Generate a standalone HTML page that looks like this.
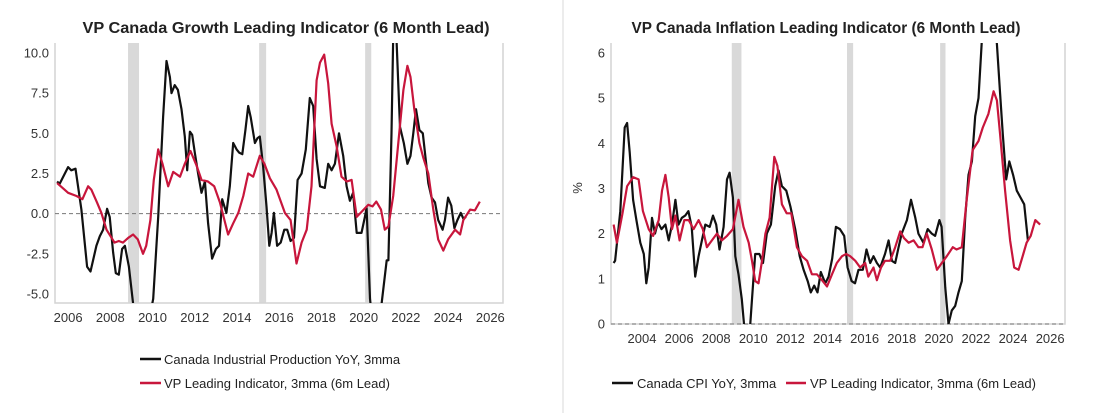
<!DOCTYPE html>
<html><head><meta charset="utf-8"><style>
body{margin:0;background:#fff;width:1106px;height:413px;overflow:hidden;font-family:"Liberation Sans",sans-serif}
svg{display:block}
</style></head><body>
<svg id="svg" width="1106" height="413">
<rect x="0" y="0" width="1106" height="413" fill="#fff"/>
<line x1="563" y1="0" x2="563" y2="413" stroke="#d8d8d8"/>
<text x="286" y="33" text-anchor="middle" font-size="16" font-weight="bold" fill="#222" textLength="407" lengthAdjust="spacingAndGlyphs">VP Canada Growth Leading Indicator (6 Month Lead)</text>
<text x="826" y="33" text-anchor="middle" font-size="16" font-weight="bold" fill="#222" textLength="389" lengthAdjust="spacingAndGlyphs">VP Canada Inflation Leading Indicator (6 Month Lead)</text>
<text transform="translate(582,188) rotate(-90)" text-anchor="middle" font-size="13" fill="#333">%</text>
<g>
<line x1="140" y1="359" x2="161" y2="359" stroke="#111" stroke-width="2.5"/>
<text x="164" y="364" font-size="13" fill="#222">Canada Industrial Production YoY, 3mma</text>
<line x1="140" y1="383" x2="161" y2="383" stroke="#c8163c" stroke-width="2.5"/>
<text x="164" y="388" font-size="13" fill="#222">VP Leading Indicator, 3mma (6m Lead)</text>
</g>
<g>
<line x1="612" y1="383" x2="633" y2="383" stroke="#111" stroke-width="2.5"/>
<text x="637" y="388" font-size="13" fill="#222">Canada CPI YoY, 3mma</text>
<line x1="786" y1="383" x2="806" y2="383" stroke="#c8163c" stroke-width="2.5"/>
<text x="810" y="388" font-size="13" fill="#222">VP Leading Indicator, 3mma (6m Lead)</text>
</g>
</svg>
<script>
const recessions=[[2008.84,2009.36],[2015.05,2015.38],[2020.07,2020.36]];
const gTicksX=[2006,2008,2010,2012,2014,2016,2018,2020,2022,2024,2026];
const gTicksY=[10,7.5,5,2.5,0,-2.5,-5];
const ipYears=[2005.48,2005.6,2006.0,2006.15,2006.35,2006.63,2006.9,2007.06,2007.34,2007.5,2007.66,2007.85,2007.97,2008.13,2008.26,2008.4,2008.56,2008.69,2008.88,2009.08,2009.5,2010.03,2010.27,2010.5,2010.66,2010.82,2010.9,2011.05,2011.2,2011.37,2011.53,2011.64,2011.77,2011.88,2012.0,2012.16,2012.32,2012.48,2012.63,2012.82,2013.0,2013.15,2013.3,2013.5,2013.66,2013.82,2013.98,2014.1,2014.25,2014.4,2014.53,2014.65,2014.85,2014.97,2015.08,2015.24,2015.4,2015.53,2015.64,2015.75,2015.9,2016.07,2016.24,2016.38,2016.54,2016.7,2016.87,2017.06,2017.26,2017.45,2017.61,2017.77,2017.93,2018.16,2018.32,2018.48,2018.64,2018.83,2019.03,2019.19,2019.35,2019.5,2019.67,2019.9,2020.06,2020.14,2020.3,2020.6,2020.85,2021.09,2021.17,2021.32,2021.4,2021.5,2021.55,2021.72,2021.9,2022.07,2022.22,2022.35,2022.48,2022.64,2022.8,2022.92,2023.06,2023.22,2023.38,2023.53,2023.74,2023.85,2024.0,2024.15,2024.3,2024.44,2024.6,2024.72,2024.85];
const ipValues=[2.0,1.85,2.9,2.7,2.8,0.25,-3.3,-3.6,-2.0,-1.4,-1.0,0.3,-0.2,-2.4,-3.7,-3.8,-2.2,-2.0,-3.3,-5.6,-9,-5.3,-0.2,6.0,9.5,8.5,7.5,8.0,7.7,6.5,4.8,2.7,5.1,4.9,3.8,2.5,1.3,2.0,-0.6,-2.8,-2.2,-2.0,0.9,0.05,1.7,4.4,4.0,3.8,3.7,5.2,6.7,6.0,4.4,4.7,4.8,2.9,0.45,-2.0,-1.2,0.05,-2.0,-1.8,-1.0,-1.0,-1.7,-1.5,2.1,2.5,4.0,7.2,6.7,3.4,1.7,1.6,3.1,2.7,3.1,5.0,3.6,1.7,0.8,1.3,-1.2,-1.2,-0.2,0.35,-5.3,-9,-5.6,-2.9,-2.9,5.0,11,13,11,5.4,4.4,3.1,3.6,5.0,6.5,5.2,5.0,3.6,1.9,1.0,0.7,-0.4,-1.0,-0.4,1.0,0.5,-0.9,-0.4,0.05,-0.3,-0.2];
const gliYears=[2005.48,2006.0,2006.4,2006.68,2006.95,2007.1,2007.37,2007.58,2007.82,2008.2,2008.4,2008.6,2008.85,2009.08,2009.3,2009.55,2009.7,2009.9,2010.06,2010.27,2010.47,2010.74,2010.98,2011.3,2011.53,2011.8,2012.08,2012.32,2012.62,2012.92,2013.19,2013.58,2013.82,2014.06,2014.3,2014.53,2014.77,2015.08,2015.3,2015.56,2015.87,2016.27,2016.54,2016.82,2017.06,2017.3,2017.53,2017.77,2017.93,2018.13,2018.32,2018.48,2018.72,2018.95,2019.2,2019.43,2019.67,2020.0,2020.22,2020.42,2020.6,2020.82,2021.0,2021.17,2021.4,2021.64,2021.88,2022.07,2022.22,2022.4,2022.64,2022.82,2023.06,2023.3,2023.53,2023.77,2024.0,2024.33,2024.57,2024.72,2025.04,2025.27,2025.5];
const gliValues=[1.9,1.3,1.1,0.9,1.7,1.5,0.7,0.05,-1.0,-1.8,-1.7,-1.8,-1.5,-1.3,-1.6,-2.5,-2.0,-0.4,2.1,4.0,3.1,1.7,2.6,2.3,3.1,3.9,3.0,2.1,2.0,1.7,0.7,-1.3,-0.6,0.05,1.1,2.5,2.3,3.6,3.1,2.2,1.5,0.05,-0.4,-3.1,-1.8,-1.0,1.7,8.3,9.4,9.9,8.1,5.6,4.2,2.3,2.0,2.1,-0.2,0.25,0.55,0.45,0.75,0.25,-1.0,-0.8,1.1,4.4,7.7,9.2,8.5,6.5,4.4,3.5,2.5,0.25,-1.6,-2.3,-1.6,-1.0,-1.3,-0.4,0.25,0.2,0.75];
const iTicksX=[2004,2006,2008,2010,2012,2014,2016,2018,2020,2022,2024,2026];
const iTicksY=[0,1,2,3,4,5,6];
const cpiYears=[2002.47,2002.55,2002.83,2003.07,2003.2,2003.34,2003.52,2003.7,2003.91,2004.1,2004.23,2004.36,2004.54,2004.7,2004.86,2005.05,2005.26,2005.44,2005.62,2005.8,2005.97,2006.15,2006.33,2006.5,2006.68,2006.87,2007.05,2007.23,2007.41,2007.65,2007.83,2008.0,2008.18,2008.4,2008.58,2008.72,2008.9,2009.03,2009.2,2009.38,2009.5,2009.75,2009.93,2010.1,2010.33,2010.52,2010.73,2010.95,2011.18,2011.36,2011.54,2011.78,2012.0,2012.26,2012.5,2012.71,2012.93,2013.1,2013.28,2013.46,2013.64,2013.88,2014.06,2014.25,2014.45,2014.67,2014.9,2015.08,2015.3,2015.48,2015.67,2015.9,2016.1,2016.3,2016.48,2016.66,2016.84,2017.1,2017.29,2017.47,2017.65,2017.83,2018.0,2018.28,2018.5,2018.73,2018.9,2019.17,2019.4,2019.62,2019.8,2020.03,2020.15,2020.35,2020.52,2020.7,2020.88,2021.06,2021.24,2021.42,2021.6,2021.78,2021.96,2022.14,2022.32,2022.6,2022.9,2023.13,2023.3,2023.45,2023.63,2023.8,2024.0,2024.2,2024.4,2024.6,2024.8];
const cpiValues=[1.35,1.4,2.5,4.35,4.45,3.8,2.75,2.3,1.8,1.55,0.9,1.25,2.35,2.0,2.25,2.1,2.2,1.85,2.2,2.75,2.2,2.35,2.4,2.5,2.15,1.05,1.5,1.85,2.2,2.15,2.4,2.2,1.65,2.15,3.2,3.35,2.8,1.5,1.1,0.55,0,-0.5,0.55,1.55,1.55,1.35,2.0,2.2,3.05,3.4,3.05,2.95,2.6,2.1,1.5,1.2,0.95,0.7,0.85,0.7,1.15,0.9,1.05,1.45,2.15,2.1,1.95,1.25,0.95,0.9,1.2,1.2,1.65,1.35,1.5,1.35,1.25,1.55,1.85,1.4,1.35,1.7,2.0,2.3,2.75,2.35,2.0,1.8,2.1,2.0,1.95,2.3,2.15,0.8,0,0.3,0.4,0.7,0.95,2.35,3.3,3.6,4.6,5.0,6.3,7.2,7.0,6.2,5.1,4.2,3.2,3.6,3.3,2.95,2.8,2.65,1.85];
const iliYears=[2002.47,2002.65,2002.95,2003.2,2003.52,2003.82,2004.05,2004.36,2004.6,2004.9,2005.08,2005.26,2005.44,2005.62,2005.8,2006.03,2006.28,2006.52,2006.78,2007.05,2007.28,2007.5,2007.77,2008.04,2008.3,2008.58,2008.9,2009.2,2009.47,2009.75,2009.93,2010.1,2010.28,2010.47,2010.65,2010.88,2011.13,2011.3,2011.54,2011.8,2012.05,2012.35,2012.62,2012.9,2013.16,2013.43,2013.7,2013.97,2014.24,2014.5,2014.78,2015.0,2015.22,2015.5,2015.76,2016.03,2016.2,2016.48,2016.66,2016.88,2017.1,2017.38,2017.65,2017.92,2018.13,2018.37,2018.64,2018.9,2019.12,2019.35,2019.62,2019.9,2020.16,2020.43,2020.75,2020.95,2021.24,2021.5,2021.82,2022.14,2022.37,2022.67,2022.95,2023.13,2023.3,2023.57,2023.84,2024.06,2024.3,2024.55,2024.73,2024.95,2025.2,2025.46];
const iliValues=[2.2,1.8,2.45,3.05,3.25,3.2,2.5,2.1,1.95,2.3,2.95,3.3,2.8,2.1,2.4,1.85,2.3,2.3,2.1,2.3,2.1,1.7,1.85,2.0,1.85,1.95,2.1,2.75,2.15,1.8,1.4,0.95,0.9,1.4,2.0,2.35,3.7,3.5,2.65,2.45,2.45,1.7,1.5,1.4,1.1,1.1,0.97,0.83,1.1,1.35,1.5,1.55,1.5,1.4,1.25,1.35,1.05,1.25,0.97,1.25,1.4,1.4,1.7,2.05,1.9,1.8,1.85,1.7,1.7,2.0,1.65,1.2,1.35,1.5,1.7,1.65,1.7,2.75,3.85,4.05,4.35,4.65,5.15,4.95,4.2,2.95,1.85,1.25,1.2,1.55,1.8,1.95,2.3,2.2];

const NS='http://www.w3.org/2000/svg';
const svg=document.getElementById('svg');
function mk(tag,attrs,parent){const e=document.createElementNS(NS,tag);for(const k in attrs)e.setAttribute(k,attrs[k]);(parent||svg).appendChild(e);return e;}

function drawChart(cfg){
  const {id,L,R,T,B,x0,x1,y0,y1,ticksX,ticksY,fmt,series}=cfg;
  const sx=v=>L+(v-x0)/(x1-x0)*(R-L);
  const sy=v=>B-(v-y0)/(y1-y0)*(B-T);
  const g=mk('g',{});
  
  
  const cp=mk('clipPath',{id:id+'-clip'},g);
  mk('rect',{x:L,y:T,width:R-L,height:B-T},cp);
  recessions.forEach((r,i)=>{
    const rc=mk('rect',{x:sx(r[0]),y:T,width:sx(r[1])-sx(r[0]),height:B-T,fill:'#d9d9d9'},g);
    
    
  });
  const fr=mk('path',{d:`M${L},${T}V${B}H${R}V${T}`,fill:'none',stroke:'#d4d4d4','stroke-width':1.5},g);
  
  
  const zl=mk('line',{x1:L,x2:R,y1:sy(0),y2:sy(0),stroke:'#777','stroke-dasharray':'4,3','stroke-width':1},g);
  
  
  ticksX.forEach(t=>{
    const tx=mk('text',{x:sx(t),y:B+19,'text-anchor':'middle','font-size':13,fill:'#333'},g);
    tx.textContent=t;
    
    
  });
  ticksY.forEach(t=>{
    const ty=mk('text',{x:L-6,y:sy(t)+4.5,'text-anchor':'end','font-size':13,fill:'#333'},g);
    ty.textContent=fmt(t);
    
    
  });
  series.forEach(s=>{
    const d=s.xs.map((x,i)=>(i?'L':'M')+sx(x).toFixed(1)+','+sy(s.ys[i]).toFixed(1)).join('');
    const p=mk('path',{d:d,fill:'none',stroke:s.color,'stroke-width':2.2,'stroke-linejoin':'round','clip-path':`url(#${id}-clip)`},g);
    
    
  });
}
drawChart({id:'growth',L:55,R:503,T:43,B:303,x0:2005.38,x1:2026.6,y0:-5.56,y1:10.62,ticksX:gTicksX,ticksY:gTicksY,fmt:t=>t.toFixed(1),
  series:[{xs:ipYears,ys:ipValues,color:'#111',name:'industrial-production-line'},{xs:gliYears,ys:gliValues,color:'#c8163c',name:'growth-leading-indicator-line'}]});
drawChart({id:'inflation',L:611,R:1065,T:43,B:324,x0:2002.33,x1:2026.8,y0:0,y1:6.22,ticksX:iTicksX,ticksY:iTicksY,fmt:t=>String(t),
  series:[{xs:cpiYears,ys:cpiValues,color:'#111',name:'cpi-line'},{xs:iliYears,ys:iliValues,color:'#c8163c',name:'inflation-leading-indicator-line'}]});
</script>
</body></html>
